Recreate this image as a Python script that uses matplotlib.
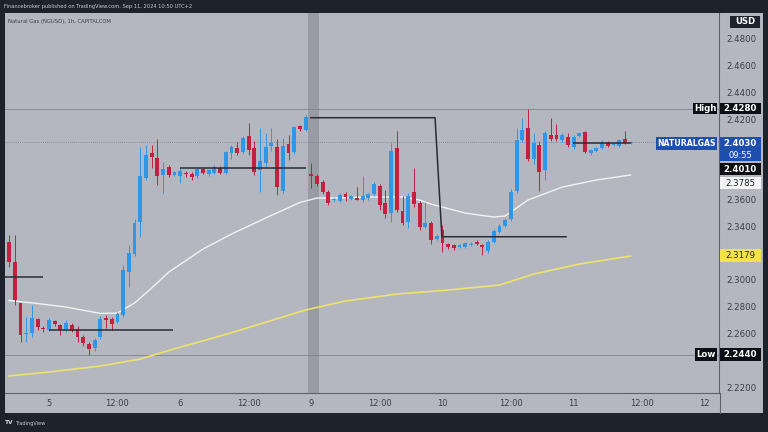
import numpy as np
import matplotlib
matplotlib.use("Agg")
import matplotlib.pyplot as plt
from matplotlib.patches import Rectangle
from matplotlib.lines import Line2D

W, H = 768, 432

# bar index 0 = Sep 5 00:00, 23 one-hour bars per session
bar_idx = list(range(-7, 103))
opens = [2.3283, 2.3136, 2.2825, 2.2595, 2.2601, 2.2706, 2.2638,
         2.2626, 2.2693, 2.2663, 2.2631, 2.2663, 2.2633, 2.2571, 2.2519, 2.2489, 2.2576,
         2.2715, 2.2706, 2.2688, 2.2738, 2.3062, 2.3193, 2.3436, 2.3759, 2.3946, 2.3909,
         2.3783, 2.3841, 2.3784, 2.3779, 2.3800, 2.3791, 2.3780, 2.3829, 2.3791, 2.3801,
         2.3834, 2.3797, 2.3949, 2.3985, 2.3958, 2.4075, 2.3984, 2.3821, 2.3871, 2.4000,
         2.3991, 2.3664, 2.4013, 2.3958, 2.4152, 2.4120, 2.3790, 2.3777, 2.3734, 2.3659,
         2.3595, 2.3590, 2.3642, 2.3606, 2.3615, 2.3598, 2.3610, 2.3640, 2.3702, 2.3573,
         2.3502, 2.3983, 2.3517, 2.3435, 2.3655, 2.3578, 2.3398, 2.3427, 2.3309, 2.3373,
         2.3267, 2.3259, 2.3249, 2.3249, 2.3262, 2.3284, 2.3264, 2.3219, 2.3286, 2.3360,
         2.3403, 2.3453, 2.3667, 2.4045, 2.4133, 2.3901, 2.4008, 2.3819, 2.4083, 2.4083,
         2.4045, 2.4070, 2.3995, 2.4075, 2.4103, 2.3950, 2.3963, 2.3983, 2.4025, 2.4005,
         2.4003, 2.4050, 2.4021]
highs = [2.3336, 2.3336, 2.2830, 2.2725, 2.2813, 2.2716, 2.2660,
         2.2713, 2.2700, 2.2670, 2.2701, 2.2680, 2.2655, 2.2590, 2.2540, 2.2566, 2.2730,
         2.2740, 2.2725, 2.2763, 2.3112, 2.3261, 2.3455, 2.3995, 2.4008, 2.4008, 2.4051,
         2.3883, 2.3859, 2.3815, 2.3836, 2.3815, 2.3809, 2.3840, 2.3840, 2.3830, 2.3860,
         2.3850, 2.3965, 2.4010, 2.4030, 2.4075, 2.4170, 2.4040, 2.4133, 2.4095, 2.4133,
         2.4051, 2.4060, 2.4083, 2.4150, 2.4160, 2.4232, 2.3873, 2.3790, 2.3745, 2.3670,
         2.3615, 2.3650, 2.3660, 2.3635, 2.3695, 2.3780, 2.3650, 2.3730, 2.3715, 2.3672,
         2.4020, 2.4110, 2.3630, 2.3648, 2.3839, 2.3590, 2.3580, 2.3440, 2.3340, 2.3411,
         2.3275, 2.3270, 2.3270, 2.3280, 2.3280, 2.3300, 2.3270, 2.3295, 2.3380, 2.3415,
         2.3465, 2.3680, 2.4135, 2.4208, 2.4280, 2.4095, 2.4040, 2.4110, 2.4208, 2.4165,
         2.4100, 2.4100, 2.4080, 2.4105, 2.4115, 2.3980, 2.3990, 2.4045, 2.4035, 2.4020,
         2.4055, 2.4113, 2.4040]
lows = [2.3097, 2.2813, 2.2539, 2.2539, 2.2576, 2.2624, 2.2615,
        2.2618, 2.2660, 2.2589, 2.2614, 2.2610, 2.2540, 2.2510, 2.2440, 2.2467, 2.2560,
        2.2640, 2.2626, 2.2676, 2.2725, 2.2950, 2.3180, 2.3323, 2.3747, 2.3836, 2.3709,
        2.3647, 2.3771, 2.3775, 2.3724, 2.3770, 2.3747, 2.3765, 2.3790, 2.3780, 2.3790,
        2.3792, 2.3790, 2.3900, 2.3935, 2.3950, 2.3933, 2.3784, 2.3657, 2.3846, 2.3960,
        2.3635, 2.3650, 2.3896, 2.3940, 2.4115, 2.4112, 2.3687, 2.3700, 2.3640, 2.3560,
        2.3585, 2.3580, 2.3590, 2.3600, 2.3595, 2.3585, 2.3600, 2.3630, 2.3525, 2.3466,
        2.3435, 2.3505, 2.3410, 2.3385, 2.3547, 2.3373, 2.3385, 2.3268, 2.3300, 2.3211,
        2.3235, 2.3225, 2.3240, 2.3240, 2.3255, 2.3260, 2.3190, 2.3199, 2.3275, 2.3350,
        2.3395, 2.3440, 2.3650, 2.4030, 2.3885, 2.3870, 2.3667, 2.3747, 2.4040, 2.4040,
        2.4030, 2.3995, 2.3975, 2.4065, 2.3950, 2.3935, 2.3955, 2.3975, 2.3995, 2.3998,
        2.3995, 2.4015, 2.4015]
closes = [2.3134, 2.2850, 2.2589, 2.2605, 2.2718, 2.2646, 2.2632,
          2.2701, 2.2669, 2.2626, 2.2676, 2.2621, 2.2571, 2.2526, 2.2482, 2.2551, 2.2706,
          2.2700, 2.2671, 2.2745, 2.3074, 2.3199, 2.3428, 2.3776, 2.3933, 2.3921, 2.3779,
          2.3829, 2.3784, 2.3806, 2.3816, 2.3795, 2.3767, 2.3827, 2.3801, 2.3821, 2.3846,
          2.3801, 2.3954, 2.3990, 2.3947, 2.4063, 2.3971, 2.3809, 2.3891, 2.3991, 2.4020,
          2.3697, 2.4001, 2.3951, 2.4140, 2.4128, 2.4215, 2.3775, 2.3718, 2.3659, 2.3577,
          2.3602, 2.3635, 2.3617, 2.3625, 2.3598, 2.3630, 2.3640, 2.3720, 2.3560, 2.3493,
          2.3966, 2.3521, 2.3423, 2.3628, 2.3565, 2.3393, 2.3425, 2.3298, 2.3327, 2.3274,
          2.3244, 2.3237, 2.3261, 2.3274, 2.3272, 2.3267, 2.3244, 2.3286, 2.3368, 2.3403,
          2.3448, 2.3659, 2.4045, 2.4120, 2.3901, 2.4021, 2.3809, 2.4100, 2.4055, 2.4050,
          2.4083, 2.4008, 2.4070, 2.4095, 2.3958, 2.3971, 2.3983, 2.4033, 2.4003, 2.4012,
          2.4045, 2.4025, 2.4030]

# moving averages
white_idx = [-7, -2, 3, 9, 12, 15, 18, 21, 27, 32, 38, 44, 47, 50, 56, 62, 65, 67,
             73, 78, 80, 84, 90, 96, 102]
white_val = [2.2847, 2.2824, 2.2798, 2.2750, 2.2753, 2.2828, 2.2940, 2.3059, 2.3231,
             2.3343, 2.3463, 2.3579, 2.3612, 2.3612, 2.3620, 2.3620, 2.3597, 2.3567,
             2.3500, 2.3470, 2.3478, 2.3597, 2.3694, 2.3747, 2.3784]
yellow_idx = [-7, 0, 9, 16, 23, 30, 37, 45, 52, 61, 70, 79, 85, 93, 102]
yellow_val = [2.2283, 2.2313, 2.2357, 2.2410, 2.2499, 2.2581, 2.2671, 2.2776, 2.2843,
              2.2895, 2.2925, 2.2962, 2.3044, 2.3119, 2.3179]

# drawn lines on the chart
drawn_x = [[-7.7, -1.0], [0.0, 21.8], [23.0, 45.0], [45.8, 67.7, 68.9, 90.8], [91.9, 102.0]]
drawn_y = [[2.3024, 2.3024], [2.2626, 2.2626], [2.3834, 2.3834],
           [2.4212, 2.4212, 2.3323, 2.3323], [2.4021, 2.4021]]

tick_pos = [0, 12, 23, 35, 46, 58, 69, 81, 92, 104, 115]
tick_lab = ["5", "12:00", "6", "12:00", "9", "12:00", "10", "12:00", "11", "12:00", "12"]
price_ticks = [2.22, 2.24, 2.26, 2.28, 2.30, 2.32, 2.34, 2.36, 2.38, 2.40, 2.42, 2.44, 2.46, 2.48]
covered_ticks = [2.24, 2.32, 2.38, 2.40]  # hidden under the price-scale boxes

high_val, low_val = 2.4280, 2.2440
last_val, line_val = 2.4030, 2.4010
white_last, yellow_last = 2.3785, 2.3179

BG = "#b4b7c0"
DARK = "#1e222d"
UP = "#2f97ea"
DOWN = "#c4203f"

fig = plt.figure(figsize=(W / 100, H / 100), dpi=100, facecolor=DARK)


def px_rect(x0, x1, y0, y1, fc, z=5):
    fig.add_artist(Rectangle((x0 / W, 1 - y1 / H), (x1 - x0) / W, (y1 - y0) / H,
                             transform=fig.transFigure, facecolor=fc,
                             edgecolor="none", zorder=z))


def px_text(x, y, s, **kw):
    fig.text(x / W, 1 - y / H, s, zorder=7, **kw)


# light chart panel
px_rect(5, 763, 13, 413, BG, z=-1)

ax = fig.add_axes([5 / W, (H - 393) / H, 714 / W, 380 / H])
ax.set_facecolor(BG)
ax.set_xlim(-7.72, 117.5)
ax.set_ylim(2.2156, 2.4994)

# weekend marker band
ax.axvspan(45.45, 47.4, color="#989ba4", zorder=0.5, lw=0)

# high / low / last lines
ax.axhline(high_val, color="#80848e", lw=0.6, zorder=1)
ax.axhline(low_val, color="#80848e", lw=0.6, zorder=1)
ax.axhline(last_val, color="#6f7fa6", lw=0.6, ls=(0, (1, 1.5)), zorder=1)

# moving averages
ax.plot(yellow_idx, yellow_val, color="#eee36a", lw=1.2, zorder=2)
ax.plot(white_idx, white_val, color="#f2f2f4", lw=1.0, zorder=2)

# candles
for i, o, h, l, c in zip(bar_idx, opens, highs, lows, closes):
    col = UP if c >= o else DOWN
    ax.vlines(i, l, h, color=col, lw=0.7, zorder=3)
    body = max(abs(c - o), 0.0007)
    ax.bar(i, body, bottom=min(o, c), width=0.68, color=col, lw=0, zorder=4)

# drawings
for xs, ys in zip(drawn_x, drawn_y):
    ax.plot(xs, ys, color="#2a2d36", lw=1.1, zorder=5, solid_capstyle="butt")

ax.yaxis.tick_right()
ax.set_yticks(price_ticks)
ax.set_yticklabels(["" if any(abs(p - q) < 1e-9 for q in covered_ticks) else f"{p:.4f}"
                    for p in price_ticks])
ax.set_xticks(tick_pos)
ax.set_xticklabels(tick_lab)
ax.tick_params(axis="y", length=0, pad=5, labelsize=6.2, colors="#3b3e48")
ax.tick_params(axis="x", length=0, pad=4, labelsize=6, colors="#3b3e48")
for s in ["top", "left"]:
    ax.spines[s].set_visible(False)
for s in ["right", "bottom"]:
    ax.spines[s].set_color("#5d606b")
    ax.spines[s].set_linewidth(0.8)
fig.add_artist(Line2D([719.5 / W, 719.5 / W], [1 - 413 / H, 1 - 393 / H],
                      transform=fig.transFigure, color="#5d606b", lw=0.8))

# header, legend, footer
px_text(4, 6.5, "Financebroker published on TradingView.com, Sep 11, 2024 10:50 UTC+2",
        color="#c9ccd3", fontsize=3.7, va="center", ha="left")
px_text(8, 21, "Natural Gas (NGUSD), 1h, CAPITALCOM", color="#3a3d47",
        fontsize=3.8, va="center", ha="left")
px_text(5, 423, "TV", color="#d8dae0", fontsize=4.2, fontweight="bold", va="center")
px_text(15, 423, "TradingView", color="#c9ccd3", fontsize=3.6, va="center")

# price-scale labels
bold = dict(fontsize=6.2, va="center", ha="center", fontweight="bold")
px_rect(730, 760, 16, 28, DARK)
px_text(745, 22, "USD", color="white", **bold)

px_rect(693, 717, 103, 114, "#0c0e13")
px_text(705, 108.5, "High", color="white", **bold)
px_rect(720, 761, 103, 114, "#0c0e13")
px_text(740.5, 108.5, f"{high_val:.4f}", color="white", **bold)

px_rect(656, 717, 137, 150, "#1f4fae")
px_text(686.5, 143.5, "NATURALGAS", color="white", fontsize=5.6, va="center",
        ha="center", fontweight="bold")
px_rect(720, 761, 137, 161, "#1f4fae")
px_text(740.5, 143.5, f"{last_val:.4f}", color="white", **bold)
px_text(740.5, 155, "09:55", color="white", fontsize=6, va="center", ha="center")

px_rect(720, 761, 163, 175, "#0c0e13")
px_text(740.5, 169, f"{line_val:.4f}", color="white", **bold)
px_rect(720, 761, 177, 189, "#f4f4f6")
px_text(740.5, 183, f"{white_last:.4f}", color="#1e222d", fontsize=6.2,
        va="center", ha="center")
px_rect(720, 761, 249, 262, "#f3e24a")
px_text(740.5, 255.5, f"{yellow_last:.4f}", color="#2a2a20", fontsize=6.2,
        va="center", ha="center")

px_rect(695, 717, 348, 361, "#0c0e13")
px_text(706, 354.5, "Low", color="white", **bold)
px_rect(720, 761, 348, 361, "#0c0e13")
px_text(740.5, 354.5, f"{low_val:.4f}", color="white", **bold)

fig.savefig("out.png", dpi=100, facecolor=DARK)
